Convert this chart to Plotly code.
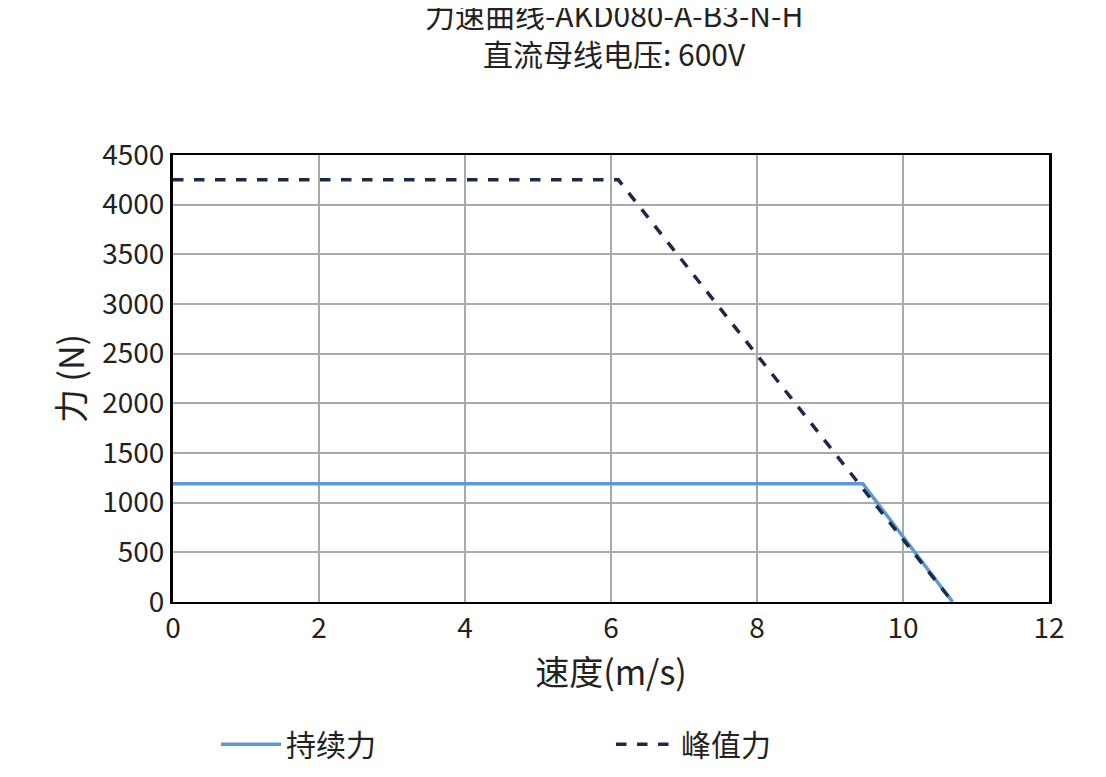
import plotly.graph_objects as go

cont_speed = [0, 9.45, 10.68]
cont_force = [1190, 1190, 0]
peak_speed = [0, 6.1, 10.68]
peak_force = [4250, 4250, 0]

FONT = "Noto Sans CJK SC"

fig = go.Figure()
fig.add_trace(go.Scatter(x=cont_speed, y=cont_force, mode="lines", name="持续力",
                         line=dict(color="#5a9bd3", width=3.5)))
fig.add_trace(go.Scatter(x=peak_speed, y=peak_force, mode="lines", name="峰值力",
                         line=dict(color="#1c2a4a", width=3.5, dash="dash")))

fig.update_layout(
    width=1106, height=777,
    paper_bgcolor="white", plot_bgcolor="white",
    margin=dict(l=165, r=65, t=147, b=183),
    font=dict(family=FONT, size=28, color="#222"),
    title=dict(text="力速曲线-AKD080-A-B3-N-H<br>直流母线电压: 600V", x=0.548, xanchor="center",
               y=0.975, yanchor="top", font=dict(size=30)),
    legend=dict(orientation="h", x=0.5, xanchor="center", y=-0.26, yanchor="top",
                font=dict(size=30), itemwidth=60, entrywidth=320),
    xaxis=dict(range=[0, 12], dtick=2, showgrid=True, gridcolor="#aaa", gridwidth=1.5,
               showline=True, linecolor="black", linewidth=2, mirror=True, zeroline=False,
               title=dict(text="速度(m/s)", standoff=8), tickfont=dict(size=28)),
    yaxis=dict(range=[0, 4500], dtick=500, showgrid=True, gridcolor="#aaa", gridwidth=1.5,
               showline=True, linecolor="black", linewidth=3, mirror=True, zeroline=False,
               title=dict(text="力 (N)", standoff=8), tickfont=dict(size=28)),
)

fig.write_html("out.html")
